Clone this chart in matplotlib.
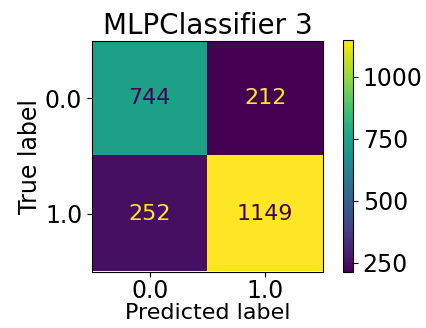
import numpy as np
import matplotlib
matplotlib.use("Agg")
import matplotlib.pyplot as plt

classes = ["0.0", "1.0"]
counts = np.array([[744, 212],
                   [252, 1149]])
cbar_ticks = [250, 500, 750, 1000]
title = "MLPClassifier 3"

plt.rcParams["font.family"] = "DejaVu Sans"
fig = plt.figure(figsize=(4.27, 3.28), dpi=100)

ax = fig.add_axes([92/427, 1 - 272/328, 231/427, 232/328])
cax = fig.add_axes([343/427, 1 - 272/328, 10/427, 232/328])

cmap = plt.get_cmap("viridis")
im = ax.imshow(counts, cmap=cmap, interpolation="nearest")
vmin, vmax = counts.min(), counts.max()
thresh = (vmin + vmax) / 2.0
for i in range(counts.shape[0]):
    for j in range(counts.shape[1]):
        v = counts[i, j]
        color = cmap(0) if v > thresh else cmap(1.0)
        ax.text(j, i, f"{v}", ha="center", va="center", color=color, fontsize=16)

ax.set_xticks(range(len(classes)))
ax.set_xticklabels(classes, fontsize=17)
ax.set_yticks(range(len(classes)))
ax.set_yticklabels(classes, fontsize=17)
ax.tick_params(axis="x", pad=2)
ax.set_xlabel("Predicted label", fontsize=16, labelpad=0)
ax.set_ylabel("True label", fontsize=17, labelpad=2)
ax.set_title(title, fontsize=20, pad=5)

cb = fig.colorbar(im, cax=cax)
cb.set_ticks(cbar_ticks)
cb.ax.tick_params(labelsize=17)

fig.savefig("out.png", dpi=100)
